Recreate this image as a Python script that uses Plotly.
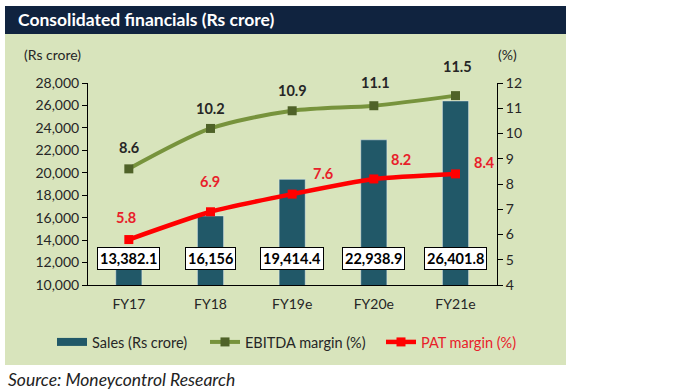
import plotly.graph_objects as go

categories = ["FY17", "FY18", "FY19e", "FY20e", "FY21e"]
sales = [13382.1, 16156, 19414.4, 22938.9, 26401.8]
sales_labels = ["13,382.1", "16,156", "19,414.4", "22,938.9", "26,401.8"]
ebitda_margin = [8.6, 10.2, 10.9, 11.1, 11.5]
pat_margin = [5.8, 6.9, 7.6, 8.2, 8.4]

FONT = "Lato"
NAVY = "#10233f"
PANEL = "#d8e4bc"
BAR = "#215868"
GREEN = "#77933c"
DKGREEN = "#4f6228"
RED = "#ff0000"
LABRED = "#e8202a"
TXT = "#262626"

# plot area in pixels
L, R, T, B = 88, 497, 83, 285
W, H = 679, 392
def px(x):
    return (x - L) / (R - L)
def py(y):
    return (B - y) / (B - T)

fig = go.Figure()
fig.add_trace(go.Bar(
    x=categories, y=sales, name="Sales (Rs crore)", showlegend=False,
    marker=dict(color=BAR), width=0.32, yaxis="y",
))
# legend proxy for bars (wide swatch)
fig.add_trace(go.Scatter(
    x=[None], y=[None], name="Sales (Rs crore)", mode="lines",
    line=dict(color=BAR, width=8), legend="legend",
))
fig.add_trace(go.Scatter(
    x=categories, y=ebitda_margin, name="EBITDA margin (%)", yaxis="y2", legend="legend2",
    mode="lines+markers", line=dict(color=GREEN, width=4, shape="spline", smoothing=0.8),
    marker=dict(symbol="square", size=9, color=DKGREEN),
))
fig.add_trace(go.Scatter(
    x=categories, y=pat_margin, name="PAT margin (%)", yaxis="y2", legend="legend3",
    mode="lines+markers", line=dict(color=RED, width=4.5, shape="spline", smoothing=0.6),
    marker=dict(symbol="square", size=9, color=RED),
))

annotations = []
for c, lab in zip(categories, sales_labels):
    annotations.append(dict(
        x=c, xref="x", y=py(270), yref="paper", text="<b>" + lab + "</b>",
        showarrow=False, bgcolor="white", bordercolor="black", borderwidth=1, borderpad=2,
        font=dict(family=FONT, size=14.5, color="black"),
    ))
eb_shift = [(0, 21), (0, 20), (0, 20), (2, 23), (2, 29)]
for c, v, (dx, dy) in zip(categories, ebitda_margin, eb_shift):
    annotations.append(dict(
        x=c, xref="x", y=v, yref="y2", text="<b>%.1f</b>" % v, showarrow=False,
        xshift=dx, yshift=dy, font=dict(family=FONT, size=14.5, color=TXT),
    ))
pat_shift = [(-3, 22), (-1, 30), (31, 21), (27, 19), (29, 11)]
for c, v, (dx, dy) in zip(categories, pat_margin, pat_shift):
    annotations.append(dict(
        x=c, xref="x", y=v, yref="y2", text="<b>%.1f</b>" % v, showarrow=False,
        xshift=dx, yshift=dy, font=dict(family=FONT, size=14.5, color=LABRED),
    ))
annotations += [
    dict(x=px(16), y=py(20), xref="paper", yref="paper", xanchor="left", yanchor="middle",
         text="<b>Consolidated financials (Rs crore)</b>", showarrow=False,
         font=dict(family=FONT, size=17.5, color="white")),
    dict(x=px(22), y=py(54), xref="paper", yref="paper", xanchor="left", yanchor="middle",
         text="(Rs crore)", showarrow=False, font=dict(family=FONT, size=14, color=TXT)),
    dict(x=px(496), y=py(54), xref="paper", yref="paper", xanchor="left", yanchor="middle",
         text="(%)", showarrow=False, font=dict(family=FONT, size=14, color=TXT)),
    dict(x=px(6), y=py(379), xref="paper", yref="paper", xanchor="left", yanchor="middle",
         text="<i>Source: Moneycontrol Research</i>", showarrow=False,
         font=dict(family=FONT, size=17.5, color="#222222")),
]

shapes = [
    dict(type="rect", xref="paper", yref="paper", x0=px(5), x1=px(566), y0=py(365), y1=py(34),
         fillcolor=PANEL, line=dict(width=0), layer="below"),
    dict(type="rect", xref="paper", yref="paper", x0=px(5), x1=px(566), y0=py(34), y1=py(6),
         fillcolor=NAVY, line=dict(width=0), layer="below"),
]

def leg(x0, color=TXT):
    return dict(orientation="h", x=px(x0), xanchor="left", y=py(342), yanchor="middle",
                bgcolor="rgba(0,0,0,0)", font=dict(family=FONT, size=14.5, color=color))

fig.update_layout(
    width=W, height=H,
    margin=dict(l=L, r=W - R, t=T, b=H - B),
    paper_bgcolor="white", plot_bgcolor="rgba(0,0,0,0)",
    font=dict(family=FONT, size=14, color=TXT),
    xaxis=dict(showline=True, linecolor="black", linewidth=1, ticks="", showgrid=False,
               ticklabelstandoff=6, tickfont=dict(size=14, color=TXT)),
    yaxis=dict(range=[10000, 28000], dtick=2000, tickformat=",", showline=True, linecolor="black",
               linewidth=1, ticks="outside", ticklen=5, tickcolor="black", showgrid=False,
               zeroline=False, tickfont=dict(size=14, color=TXT)),
    yaxis2=dict(range=[4, 12], dtick=1, overlaying="y", side="right", showline=True,
                linecolor="black", linewidth=1, ticks="outside", ticklen=5, tickcolor="black",
                showgrid=False, zeroline=False, tickfont=dict(size=14, color=TXT)),
    legend=leg(52),
    legend2=leg(205),
    legend3=leg(381, LABRED),
    annotations=annotations, shapes=shapes,
)

fig.write_html("out.html", config={"displayModeBar": False},
               post_script="document.body.style.margin='0px';document.body.style.overflow='hidden';")
